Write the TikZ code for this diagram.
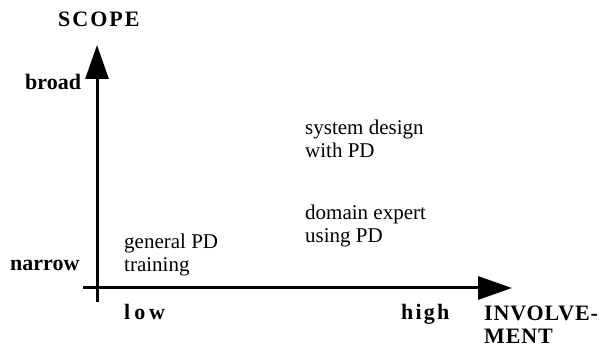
\documentclass[tikz,border=0pt]{standalone}
\usepackage{fontspec}
\setmainfont{Liberation Serif}
\usetikzlibrary{arrows.meta}
\begin{document}
\begin{tikzpicture}[x=1pt,y=-1pt,
  axis/.style={line width=3pt, -{Triangle[length=34pt,width=23pt]}},
  body/.style={font=\fontsize{21}{22.5}\selectfont, inner sep=0pt, align=left, anchor=north west},
  tag/.style={font=\fontsize{22}{23.5}\selectfont\bfseries, inner sep=0pt},
  spaced/.style={tag, font=\fontsize{22}{23.5}\selectfont\bfseries\addfontfeature{LetterSpace=#1}}]
  \useasboundingbox (0,0) rectangle (603,347);

  % axes
  \coordinate (ybot) at (97,302);
  \coordinate (ytop) at (97,45);
  \coordinate (xleft) at (83,288);
  \coordinate (xright) at (512,288);
  \draw[axis] (ybot) -- (ytop);
  \draw[axis] (xleft) -- (xright);

  % axis titles and scale words
  \node[spaced=9, anchor=base west] (scope) at (58,27) {SCOPE};
  \node[tag, anchor=base west] (broad) at (25,90) {broad};
  \node[tag, anchor=base west] (narrow) at (10,271) {narrow};
  \node[spaced=18, anchor=base west] (low) at (124,320) {low};
  \node[spaced=10, anchor=base west] (high) at (401,320) {high};
  \node[spaced=4, anchor=north west, align=left] (involvement) at (484,305.4) {INVOLVE-\\MENT};

  % cells of the chart
  \node[body] (sysdesign) at (305,120) {system design\\with PD};
  \node[body] (domain) at (305,205) {domain expert\\using PD};
  \node[body] (general) at (124,234) {general PD\\training};
\end{tikzpicture}
\end{document}
